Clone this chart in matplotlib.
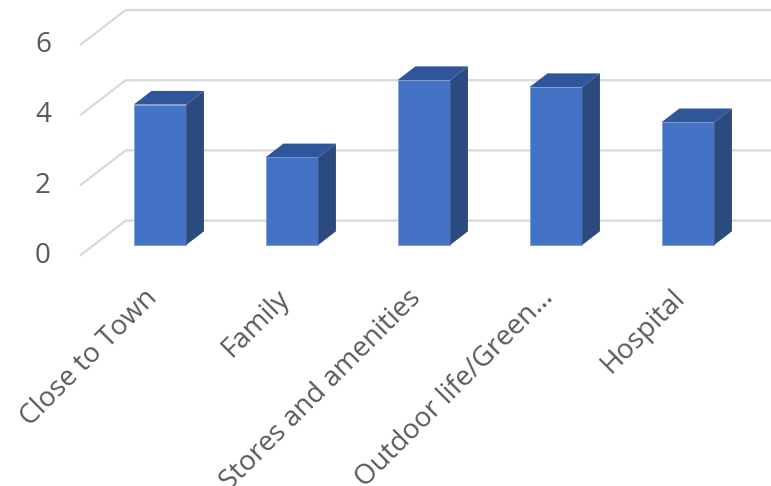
import matplotlib
matplotlib.use("Agg")
import matplotlib.pyplot as plt
import numpy as np

categories = ["Close to Town", "Family", "Stores and amenities",
              "Outdoor life/Green\u2026", "Hospital"]
values = [4.0, 2.5, 4.7, 4.5, 3.5]
y_ticks = [0, 2, 4, 6]

plt.rcParams["font.family"] = ["Open Sans", "DejaVu Sans"]

# oblique projection of the depth axis (depth 0 = front, 1 = back wall)
DEPTH_DX = 0.346   # category units per unit depth
DEPTH_DY = 1.0     # value units per unit depth
BAR_D0, BAR_D1 = 0.306, 0.694
BAR_W = 0.398

FRONT = "#4472C4"
SIDE = "#2B4A80"
TOP = "#30569A"
GRID = "#D9D9D9"
TEXT = "#595959"

fig = plt.figure(figsize=(7.71, 4.86), dpi=100)
ax = fig.add_axes([0, 0, 1, 1])
ax.set_xlim(-1.106, 4.735)
ax.set_ylim(-6.561, 7.285)
ax.axis("off")

n = len(categories)
x_left, x_right = -0.5, n - 0.5

# gridlines on the side wall and back wall
for v in y_ticks:
    ax.plot([x_left, x_left + DEPTH_DX, x_right + DEPTH_DX + 1],
            [v, v + DEPTH_DY, v + DEPTH_DY],
            color=GRID, lw=1.6, zorder=1, solid_capstyle="butt")
    ax.text(x_left - 0.22, v, str(v), ha="right", va="center",
            fontsize=20, color=TEXT)

# 3D columns
x = np.arange(n)
fx = x + BAR_D0 * DEPTH_DX
base = BAR_D0 * DEPTH_DY
ddx = (BAR_D1 - BAR_D0) * DEPTH_DX
ddy = (BAR_D1 - BAR_D0) * DEPTH_DY
ax.bar(fx, values, BAR_W, bottom=base, color=FRONT,
       edgecolor="#7F9FD8", linewidth=0.6, zorder=3)
for xc, v in zip(fx, values):
    xl, xr = xc - BAR_W / 2, xc + BAR_W / 2
    top = base + v
    ax.fill([xr, xr + ddx, xr + ddx, xr],
            [base, base + ddy, top + ddy, top],
            color=SIDE, lw=0, zorder=3)
    ax.fill([xl, xr, xr + ddx, xl + ddx],
            [top, top, top + ddy, top + ddy],
            color=TOP, lw=0, zorder=3)

# rotated category labels
for xi, lab in zip(x, categories):
    ax.text(xi - 0.02, -0.8, lab, rotation=45, rotation_mode="anchor",
            ha="right", va="top", fontsize=20, color=TEXT)

fig.savefig("out.png", dpi=100)
